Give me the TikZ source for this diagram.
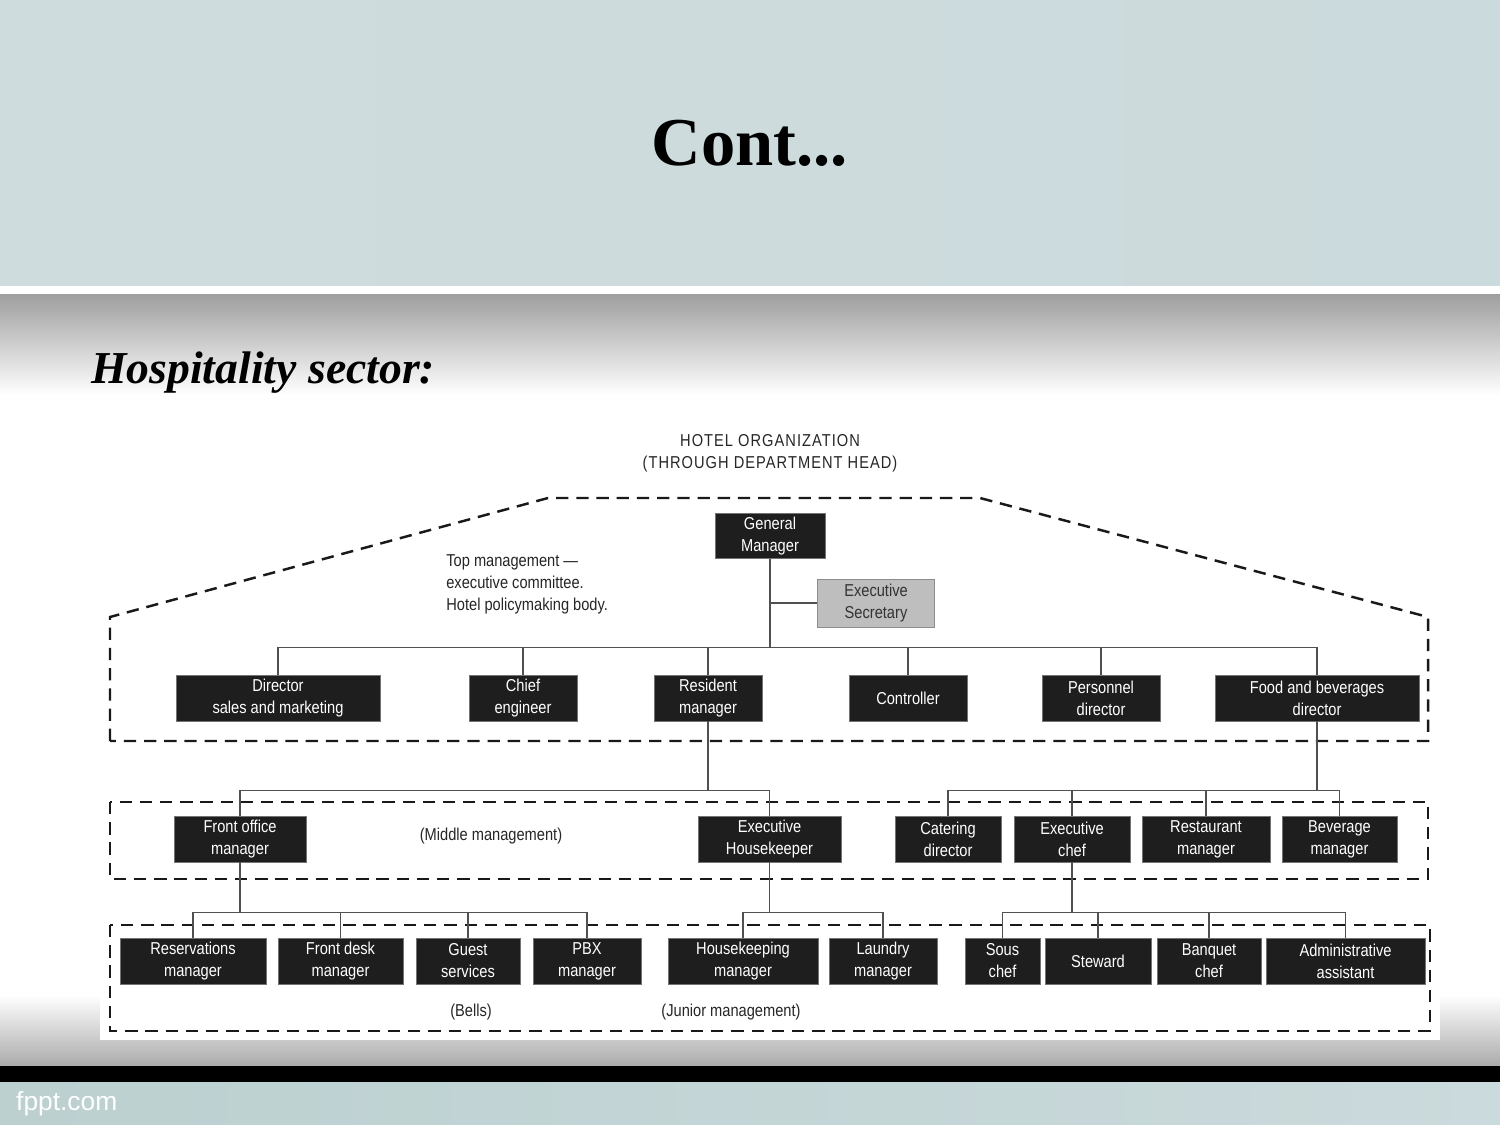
\documentclass[tikz,border=0pt]{standalone}
\usepackage{fontspec}
\setmainfont{Liberation Serif}
\newfontfamily\chartfont[FakeStretch=0.85]{Liberation Sans}
\newfontfamily\sitefont{Liberation Sans}
\definecolor{bandleft}{HTML}{CFDCDE}
\definecolor{bandmid}{HTML}{DAE4E4}
\definecolor{bandright}{HTML}{CBDADC}
\definecolor{footbar}{HTML}{BCD0D0}
\definecolor{boxblack}{HTML}{1E1E1E}
\definecolor{secgray}{HTML}{BEBEBE}
\definecolor{linkgray}{HTML}{505050}
\begin{document}
\begin{tikzpicture}[x=0.02cm,y=-0.02cm,
    post/.style={fill=boxblack,draw=black!55,text=white,inner sep=0pt,
      minimum height=0.92cm,align=center,
      font=\chartfont\fontsize{9.8}{12.5}\selectfont},
    note/.style={text=black!85,align=center,inner sep=0pt,
      font=\chartfont\fontsize{9.8}{12.5}\selectfont},
    link/.style={draw=linkgray,line width=0.6pt},
    zone/.style={draw=black!90,line width=1.4pt,dash pattern=on 7pt off 4.5pt}]
  \useasboundingbox (0,0) rectangle (1500,1125);

  % Slide background
  \shade[left color=bandleft,middle color=bandmid,right color=bandright] (0,0) rectangle (1500,286);
  \fill[white] (0,286) rectangle (1500,294);
  \shade[top color=black!38,bottom color=white] (0,294) rectangle (1500,395);
  \fill[white] (0,395) rectangle (1500,995);
  \shade[top color=white,bottom color=black!33] (0,995) rectangle (1500,1066);
  \fill[black] (0,1066) rectangle (1500,1082);
  \shade[left color=footbar,right color=bandright] (0,1082) rectangle (1500,1125);
  \fill[white] (100,418) rectangle (1440,1040);

  % Headings
  \node[font=\fontsize{39}{44}\selectfont\bfseries] (title) at (750,143) {Cont...};
  \node[font=\fontsize{26}{30}\selectfont\bfseries\itshape,anchor=west] (sector) at (85,373) {Hospitality sector:};
  \node[text=white,font=\sitefont\fontsize{15}{17}\selectfont,anchor=west] (site) at (10,1104) {fppt.com};
  \node[note,font=\chartfont\addfontfeatures{LetterSpace=6}\fontsize{9.8}{12.5}\selectfont] (head) at (770,453) {HOTEL ORGANIZATION\\(THROUGH DEPARTMENT HEAD)};

  % Management zones
  \draw[zone] (110,741) -- (110,617) -- (548,498) -- (980,498) -- (1428,617) -- (1428,741) -- cycle;
  \draw[zone] (110,802) rectangle (1428,879);
  \draw[zone] (110,925) rectangle (1430,1031);

  % Top management
  \node[post,minimum width=2.2cm,minimum height=0.9cm] (gm) at (770,536) {General\\Manager};
  \node[post,fill=secgray,draw=black!45,text=black!80,minimum width=2.34cm,minimum height=0.96cm] (es) at (876,603) {Executive\\Secretary};
  \node[note,align=left,anchor=west] (topnote) at (446,584) {Top management —\\executive committee.\\Hotel policymaking body.};
  \foreach \name/\x/\w/\txt in {dsm/278/4.08/{Director\\sales and marketing},
      ce/523/2.16/{Chief\\engineer}, rm/708/2.16/{Resident\\manager},
      ctl/908/2.36/{Controller}, pd/1101/2.36/{Personnel\\director},
      fbd/1317/4.08/{Food and beverages\\director}}
    \node[post,minimum width=\w cm] (\name) at (\x,698) {\txt};

  % Middle management
  \foreach \name/\x/\w/\txt in {fom/240/2.64/{Front office\\manager},
      eh/769.5/2.86/{Executive\\Housekeeper}, cd/948/2.12/{Catering\\director},
      ec/1072/2.32/{Executive\\chef}, rsm/1206/2.56/{Restaurant\\manager},
      bm/1339.5/2.3/{Beverage\\manager}}
    \node[post,minimum width=\w cm] (\name) at (\x,839) {\txt};
  \node[note] (midnote) at (491,836) {(Middle management)};

  % Junior management
  \foreach \name/\x/\w/\txt in {res/193/2.92/{Reservations\\manager},
      fdm/340.5/2.5/{Front desk\\manager}, gs/468/2.08/{Guest\\services},
      pbx/587/2.16/{PBX\\manager}, hkm/743/3.0/{Housekeeping\\manager},
      lm/883/2.16/{Laundry\\manager}, sc/1002.5/1.5/{Sous\\chef},
      stw/1098/2.12/{Steward}, bc/1209/2.08/{Banquet\\chef},
      aa/1345.5/3.18/{Administrative\\assistant}}
    \node[post,minimum width=\w cm] (\name) at (\x,961) {\txt};
  \node[note] (bells) at (471,1012) {(Bells)};
  \node[note] (junnote) at (731,1012) {(Junior management)};

  % Reporting lines
  \draw[link] (gm.south) -- ++(0,89) coordinate (gmbus);
  \draw[link] (es.west) -- (es.west -| gm.south);
  \foreach \n in {dsm,ce,rm,ctl,pd,fbd}
    \draw[link] (\n.north) |- (gmbus);
  \draw[link] (rm.south) -- ++(0,69) coordinate (rmbus);
  \foreach \n in {fom,eh}
    \draw[link] (\n.north) |- (rmbus);
  \draw[link] (fbd.south) -- ++(0,69) coordinate (fbbus);
  \foreach \n in {cd,ec,rsm,bm}
    \draw[link] (\n.north) |- (fbbus);
  \draw[link] (fom.south) -- ++(0,50) coordinate (fobus);
  \foreach \n in {res,fdm,gs,pbx}
    \draw[link] (\n.north) |- (fobus);
  \draw[link] (eh.south) -- ++(0,50) coordinate (ehbus);
  \foreach \n in {hkm,lm}
    \draw[link] (\n.north) |- (ehbus);
  \draw[link] (ec.south) -- ++(0,50) coordinate (ecbus);
  \foreach \n in {sc,stw,bc,aa}
    \draw[link] (\n.north) |- (ecbus);
\end{tikzpicture}
\end{document}
